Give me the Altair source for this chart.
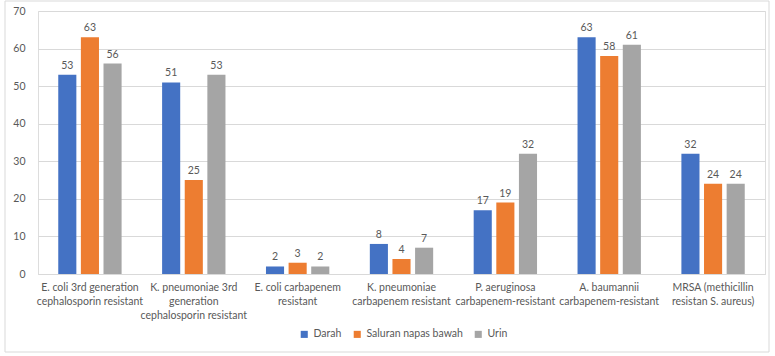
import altair as alt
import pandas as pd

categories = [
    "E. coli 3rd generation\ncephalosporin resistant",
    "K. pneumoniae 3rd\ngeneration\ncephalosporin resistant",
    "E. coli carbapenem\nresistant",
    "K. pneumoniae\ncarbapenem resistant",
    "P. aeruginosa\ncarbapenem-resistant",
    "A. baumannii\ncarbapenem-resistant",
    "MRSA (methicillin\nresistan S. aureus)",
]
series = ["Darah", "Saluran napas bawah", "Urin"]
darah = [53, 51, 2, 8, 17, 63, 32]
saluran = [63, 25, 3, 4, 19, 58, 24]
urin = [56, 53, 2, 7, 32, 61, 24]
colors = ["#4472C4", "#ED7D31", "#A5A5A5"]
y_ticks = [0, 10, 20, 30, 40, 50, 60, 70]

rows = []
for s, vals in zip(series, [darah, saluran, urin]):
    for c, v in zip(categories, vals):
        rows.append({"cat": c, "series": s, "value": v})
df = pd.DataFrame(rows)

FONT = "Lato"
TXT = "#595959"

x = alt.X("cat:N", sort=categories, title=None,
          scale=alt.Scale(paddingInner=0.39, paddingOuter=0.195),
          axis=alt.Axis(labelAngle=0, labelExpr="split(datum.label, '\\n')",
                        labelFontSize=10.5, labelColor=TXT, labelFont=FONT,
                        labelPadding=8, labelLineHeight=14, ticks=False,
                        domainColor="#D9D9D9", labelLimit=200))
xo = alt.XOffset("series:N", sort=series,
                 scale=alt.Scale(paddingInner=0.2, paddingOuter=0))
y = alt.Y("value:Q", title=None,
          scale=alt.Scale(domain=[0, 70], nice=False),
          axis=alt.Axis(values=y_ticks, domain=False, ticks=False,
                        gridColor="#D9D9D9", labelFontSize=10.5, labelColor=TXT,
                        labelFont=FONT, labelPadding=13))
color = alt.Color("series:N", sort=series,
                  scale=alt.Scale(domain=series, range=colors),
                  legend=alt.Legend(title=None, orient="none", direction="horizontal",
                                    legendX=261, legendY=318, symbolType="square",
                                    symbolSize=50, symbolStrokeWidth=0,
                                    labelFontSize=10.5, labelColor=TXT, labelFont=FONT,
                                    columnPadding=10, symbolOffset=0))

bars = alt.Chart(df).mark_bar().encode(x=x, xOffset=xo, y=y, color=color)
labels = alt.Chart(df).mark_text(dy=-9, fontSize=10.5, color=TXT, font=FONT).encode(
    x=x, xOffset=xo, y=y, text="value:Q")
border = alt.Chart(pd.DataFrame({"a": [0]})).mark_rect(
    fill=None, stroke="#D9D9D9", strokeWidth=1).encode(
    x=alt.value(-33), x2=alt.value(731), y=alt.value(-10), y2=alt.value(341))

chart = alt.layer(border, bars, labels).properties(
    width=727, height=263,
    autosize=alt.AutoSizeParams(type="none"),
    padding={"left": 38, "top": 11, "right": 10, "bottom": 82},
).configure_view(stroke=None).configure(background="white")

chart.save("out.html", embed_options={"renderer": "svg", "actions": False})
